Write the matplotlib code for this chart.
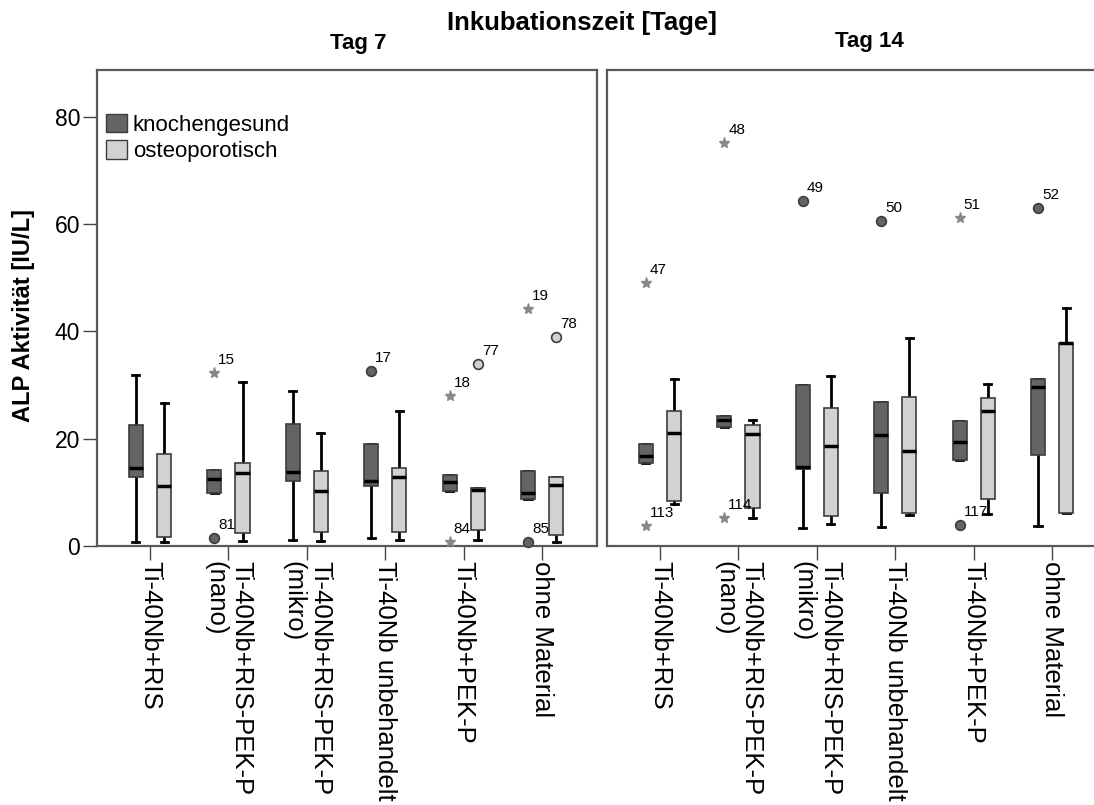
import matplotlib.pyplot as plt
from matplotlib.patches import Patch

plt.rcParams['font.family'] = ['Liberation Sans', 'DejaVu Sans']

groups = ['Ti-40Nb+RIS', 'Ti-40Nb+RIS-PEK-P\n(nano)', 'Ti-40Nb+RIS-PEK-P\n(mikro)',
          'Ti-40Nb unbehandelt', 'Ti-40Nb+PEK-P', 'ohne Material']
days = ['Tag 7', 'Tag 14']
conditions = ['knochengesund', 'osteoporotisch']

# je Gruppe: [Whisker unten, Q1, Median, Q3, Whisker oben]
tag7_gesund = [[0.8, 12.8, 14.6, 22.6, 31.9],
               [9.8, 9.8, 12.5, 14.2, 14.2],
               [1.2, 12.2, 13.7, 22.7, 28.9],
               [1.4, 11.1, 12.1, 19.0, 19.0],
               [10.3, 10.3, 12.0, 13.2, 13.2],
               [8.7, 8.7, 9.8, 14.0, 14.0]]
tag7_osteo = [[0.8, 1.7, 11.1, 17.1, 26.7],
              [1.0, 2.4, 13.6, 15.4, 30.6],
              [1.0, 2.7, 10.3, 13.9, 21.0],
              [1.1, 2.7, 12.9, 14.6, 25.2],
              [1.2, 3.0, 10.4, 10.8, 10.8],
              [0.8, 2.0, 11.4, 12.9, 12.9]]
tag14_gesund = [[15.5, 15.5, 16.8, 19.0, 19.0],
                [22.2, 22.2, 23.5, 24.3, 24.3],
                [3.4, 14.4, 14.8, 30.0, 30.0],
                [3.6, 9.8, 20.7, 26.8, 26.8],
                [16.0, 16.0, 19.4, 23.3, 23.3],
                [3.7, 17.0, 29.6, 31.2, 31.2]]
tag14_osteo = [[7.8, 8.3, 21.1, 25.2, 31.1],
               [5.2, 7.1, 20.8, 22.5, 23.4],
               [4.1, 5.6, 18.6, 25.7, 31.7],
               [5.8, 6.2, 17.7, 27.7, 38.7],
               [5.9, 8.8, 25.2, 27.6, 30.2],
               [6.2, 6.2, 37.8, 37.9, 44.3]]

# Ausreisser (Tag-Index, Gruppe, Kondition, Wert, Fallnummer, Extremwert)
out_day = [0, 0, 0, 0, 0, 0, 0, 0, 0, 1, 1, 1, 1, 1, 1, 1, 1, 1]
out_group = [1, 1, 3, 4, 4, 4, 5, 5, 5, 0, 0, 1, 1, 2, 3, 4, 4, 5]
out_cond = [0, 0, 0, 0, 0, 1, 0, 0, 1, 0, 0, 0, 0, 0, 0, 0, 0, 0]
out_value = [32.3, 1.4, 32.7, 28.0, 0.8, 33.9, 44.1, 0.7, 38.9,
             49.1, 3.7, 75.1, 5.3, 64.2, 60.5, 61.1, 3.9, 62.9]
out_id = ['15', '81', '17', '18', '84', '77', '19', '85', '78',
          '47', '113', '48', '114', '49', '50', '51', '117', '52']
out_star = [True, False, False, True, True, False, True, False, False,
            True, True, True, True, False, False, True, False, False]

dark = '#646464'
light = '#d2d2d2'
box_colors = [dark, light]
offsets = [-0.18, 0.18]


def draw_boxes(ax, summary, offset, color):
    stats = [dict(whislo=s[0], q1=s[1], med=s[2], q3=s[3], whishi=s[4], fliers=[]) for s in summary]
    pos = [i + offset for i in range(len(summary))]
    ax.bxp(stats, positions=pos, widths=0.18, capwidths=0.09, patch_artist=True,
           showfliers=False, manage_ticks=False,
           boxprops=dict(facecolor=color, edgecolor='#3c3c3c', linewidth=1.2, zorder=3),
           medianprops=dict(color='black', linewidth=2.5, zorder=4),
           whiskerprops=dict(color='black', linewidth=2, zorder=2),
           capprops=dict(color='black', linewidth=2, zorder=2))


fig = plt.figure(figsize=(10.94, 8.05), dpi=100)
W, H = 1094, 805
ax1 = fig.add_axes([97 / W, (H - 546) / H, 500 / W, 476 / H])
ax2 = fig.add_axes([607 / W, (H - 546) / H, 500 / W, 476 / H])
axes = [ax1, ax2]
data = [[tag7_gesund, tag7_osteo], [tag14_gesund, tag14_osteo]]

for d, ax in enumerate(axes):
    for c in range(2):
        draw_boxes(ax, data[d][c], offsets[c], box_colors[c])
    ax.set_xlim(-0.676, 5.70)
    ax.set_ylim(0, 88.7)
    ax.set_xticks(range(len(groups)))
    labels = ax.set_xticklabels(groups, rotation=-90, fontsize=18.5, ha='center', va='top')
    for t in labels:
        t.set_multialignment('left')
        t.set_linespacing(1.15)
    ax.tick_params(axis='x', length=10, width=1, color='#444444', pad=1)
    for sp in ax.spines.values():
        sp.set_color('#5a5a5a')
        sp.set_linewidth(1.6)

ax1.set_yticks([0, 20, 40, 60, 80])
ax1.tick_params(axis='y', labelsize=16.5, length=10, width=1, color='#444444', pad=2)
ax2.set_yticks([])

for i in range(len(out_value)):
    ax = axes[out_day[i]]
    x = out_group[i] + offsets[out_cond[i]]
    y = out_value[i]
    if out_star[i]:
        ax.plot(x, y, marker='*', ms=8, color='#888888', mec='#888888', ls='none',
                zorder=5, clip_on=False)
    else:
        ax.plot(x, y, marker='o', ms=7, mfc=box_colors[out_cond[i]], mec='#3c3c3c',
                mew=1.2, ls='none', zorder=5, clip_on=False)
    ax.annotate(out_id[i], (x, y), xytext=(4, 6), textcoords='offset pixels',
                fontsize=11, ha='left', va='bottom', zorder=6)

handles = [Patch(facecolor=dark, edgecolor='#3c3c3c', label=conditions[0]),
           Patch(facecolor=light, edgecolor='#3c3c3c', label=conditions[1])]
ax1.legend(handles=handles, loc='upper left', bbox_to_anchor=(0.018, 0.908), frameon=False,
           fontsize=16, handlelength=0.95, handleheight=0.9, handletextpad=0.25,
           labelspacing=0.2, borderaxespad=0, borderpad=0)

fig.text(582 / W, 1 - 23 / H, 'Inkubationszeit [Tage]', fontsize=18.5, fontweight='bold',
         ha='center', va='center')
fig.text(358 / W, 1 - 44 / H, days[0], fontsize=16, fontweight='bold', ha='center', va='center')
fig.text(869 / W, 1 - 42 / H, days[1], fontsize=16, fontweight='bold', ha='center', va='center')
fig.text(24 / W, 1 - 315 / H, 'ALP Aktivität [IU/L]', fontsize=17, fontweight='bold',
         rotation=90, ha='center', va='center')

fig.savefig('out.png', dpi=100)
